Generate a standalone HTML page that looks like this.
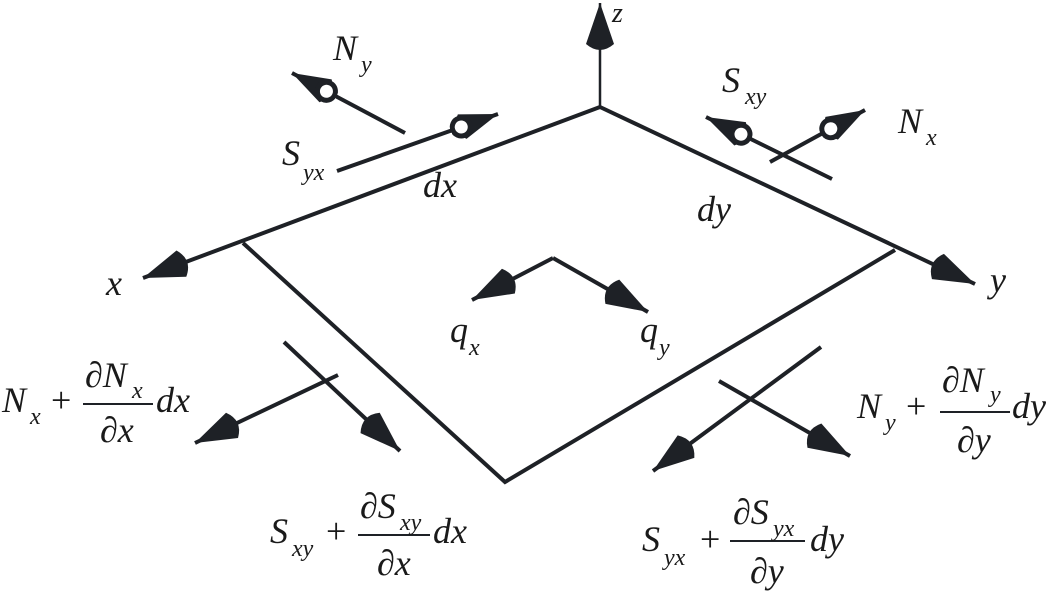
<!DOCTYPE html>
<html><head><meta charset="utf-8"><style>
html,body{margin:0;padding:0;background:#fff;}
svg{display:block}
text{font-family:"Liberation Serif","Times New Roman","DejaVu Serif",serif;font-style:italic;fill:#1a1a1a}
.s{font-size:24px}
.b{font-size:36px}
.n{font-style:normal}
</style></head><body>
<svg width="1057" height="595" viewBox="0 0 1057 595" xmlns="http://www.w3.org/2000/svg" font-family="Liberation Serif, serif">
<defs>
<marker id="a" markerUnits="userSpaceOnUse" markerWidth="70" markerHeight="44" refX="50" refY="22" orient="auto" viewBox="0 0 70 44">
<path d="M50,22 L9,8 Q-3,22 9,36 Z" fill="#1e2126"/>
</marker>
<marker id="c" markerUnits="userSpaceOnUse" markerWidth="70" markerHeight="44" refX="50" refY="22" orient="auto" viewBox="0 0 70 44">
<path d="M50,22 L12,9 Q0,22 12,35 Z" fill="#1e2126"/>
<circle cx="11" cy="22" r="9" fill="#fff" stroke="#1e2126" stroke-width="5"/>
</marker>
</defs>
<g stroke="#1e2126" stroke-width="4" fill="none">
<line x1="600" y1="107" x2="600" y2="3" stroke-width="2.5" marker-end="url(#a)"/>
<line x1="600" y1="107" x2="143" y2="278" marker-end="url(#a)"/>
<line x1="600" y1="107" x2="975" y2="284" marker-end="url(#a)"/>
<polyline points="243,243 505,482 895,250"/>
<line x1="405" y1="133" x2="292" y2="73" marker-end="url(#c)"/>
<line x1="337" y1="171" x2="498" y2="114" marker-end="url(#c)"/>
<line x1="832" y1="179" x2="706" y2="117" marker-end="url(#c)"/>
<line x1="770" y1="162" x2="865" y2="110" marker-end="url(#c)"/>
<line x1="553" y1="258" x2="472" y2="300" marker-end="url(#a)"/>
<line x1="553" y1="258" x2="648" y2="312" marker-end="url(#a)"/>
<line x1="338" y1="375" x2="195" y2="443" marker-end="url(#a)"/>
<line x1="284" y1="342" x2="400" y2="451" marker-end="url(#a)"/>
<line x1="821" y1="347" x2="653" y2="471" marker-end="url(#a)"/>
<line x1="719" y1="381" x2="850" y2="456" marker-end="url(#a)"/>
<line x1="83" y1="404" x2="153" y2="404" stroke-width="2"/>
<line x1="358" y1="535" x2="430" y2="535" stroke-width="2"/>
<line x1="940" y1="412" x2="1010" y2="412" stroke-width="2"/>
<line x1="730" y1="541" x2="805" y2="541" stroke-width="2"/>
</g>
<text class="b" x="612" y="22" style="font-size:28px">z</text>
<text class="b" x="333" y="60">N</text><text class="s" x="361" y="72">y</text>
<text class="b" x="282" y="165">S</text><text class="s" x="303" y="180">yx</text>
<text class="b" x="722" y="92">S</text><text class="s" x="745" y="104">xy</text>
<text class="b" x="898" y="133">N</text><text class="s" x="926" y="145">x</text>
<text class="b" x="423" y="197">dx</text>
<text class="b" x="697" y="221">dy</text>
<text class="b" x="106" y="295">x</text>
<text class="b" x="990" y="292">y</text>
<text class="b" x="450" y="342">q</text><text class="s" x="469" y="355">x</text>
<text class="b" x="640" y="342">q</text><text class="s" x="659" y="355">y</text>
<text class="b" x="2" y="412">N</text><text class="s" x="30" y="424">x</text>
<text class="b n" x="51" y="412">+</text>
<text class="b" x="85" y="387">∂N</text><text class="s" x="132" y="398">x</text>
<text class="b" x="100" y="442">∂x</text>
<text class="b" x="156" y="412">dx</text>
<text class="b" x="270" y="543">S</text><text class="s" x="292" y="556">xy</text>
<text class="b n" x="326" y="543">+</text>
<text class="b" x="360" y="518">∂S</text><text class="s" x="400" y="530">xy</text>
<text class="b" x="377" y="575">∂x</text>
<text class="b" x="433" y="543">dx</text>
<text class="b" x="857" y="418">N</text><text class="s" x="885" y="430">y</text>
<text class="b n" x="906" y="418">+</text>
<text class="b" x="942" y="392">∂N</text><text class="s" x="990" y="402">y</text>
<text class="b" x="957" y="452">∂y</text>
<text class="b" x="1012" y="418">dy</text>
<text class="b" x="642" y="551">S</text><text class="s" x="664" y="565">yx</text>
<text class="b n" x="700" y="551">+</text>
<text class="b" x="733" y="524">∂S</text><text class="s" x="773" y="536">yx</text>
<text class="b" x="750" y="583">∂y</text>
<text class="b" x="810" y="551">dy</text>
</svg>
</body></html>
